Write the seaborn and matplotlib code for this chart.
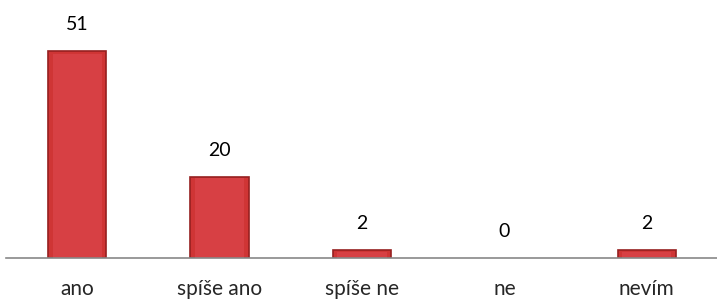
import numpy as np
import pandas as pd
import matplotlib
matplotlib.use('Agg')
import matplotlib.pyplot as plt
import seaborn as sns

# Data
categories = ['ano', 'spíše ano', 'spíše ne', 'ne', 'nevím']
counts = [51, 20, 2, 0, 2]

df = pd.DataFrame({'odpoved': categories, 'pocet': counts})

sns.set_style('white')
plt.rcParams['font.family'] = ['Lato', 'DejaVu Sans']

fig = plt.figure(figsize=(7.17, 3.02), dpi=100)
ax = fig.add_axes([6 / 717, 44 / 302, 712 / 717, 258 / 302])

sns.barplot(data=df, x='odpoved', y='pocet', color='#cf3535', width=0.41,
            edgecolor='#962020', linewidth=1.2, ax=ax, saturation=1)

# inner highlight to mimic the bevelled bars
for p in ax.patches:
    x0, w, h = p.get_x(), p.get_width(), p.get_height()
    if h == 0:
        p.set_visible(False)
        continue
    ax.add_patch(plt.Rectangle((x0 + w * 0.08, 0), w * 0.84, h * 0.985 if h > 3 else h * 0.7,
                               facecolor='#d74044', edgecolor='none', zorder=p.get_zorder() + 0.1))

for i, v in enumerate(counts):
    ax.annotate(str(v), (i, v), xytext=(0, 19), textcoords='offset points',
                ha='center', va='center', fontsize=14, color='black')

ax.set_xlim(-0.5, 4.5)
ax.set_ylim(0, 63.5)
ax.set_yticks([])
ax.set_xlabel('')
ax.set_ylabel('')
for s in ['top', 'right', 'left']:
    ax.spines[s].set_visible(False)
ax.spines['bottom'].set_color('#888888')
ax.spines['bottom'].set_linewidth(1.2)
ax.tick_params(axis='x', length=0, pad=15, labelsize=15)

fig.savefig('out.png', dpi=100)
